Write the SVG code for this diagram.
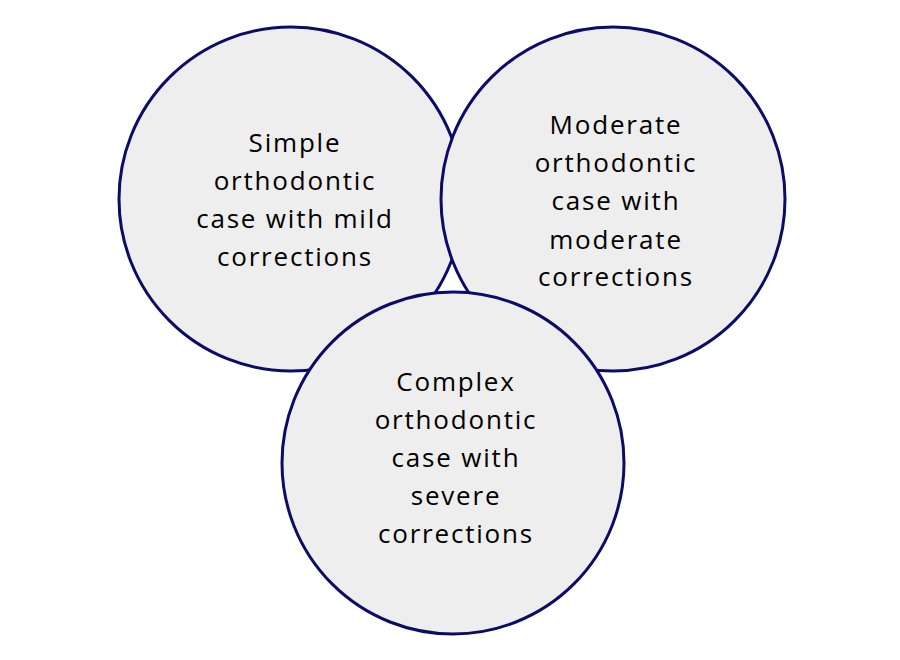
<svg xmlns="http://www.w3.org/2000/svg" width="900" height="660" viewBox="0 0 900 660">
<style>
.c{fill:#eeeeee;stroke:#0c0c66;stroke-width:3}
.t{font-family:"Open Sans","Noto Sans",sans-serif;font-size:26px;fill:#000;text-anchor:middle;letter-spacing:1.8px}
</style>
<rect width="900" height="660" fill="#fff"/>
<g id="simple">
<circle class="c" cx="291" cy="199" r="172"/>
<text class="t"><tspan x="295" y="152">Simple</tspan><tspan x="295" y="190">orthodontic</tspan><tspan x="295" y="228">case with mild</tspan><tspan x="295" y="266">corrections</tspan></text>
</g>
<g id="moderate">
<circle class="c" cx="613" cy="199" r="172"/>
<text class="t"><tspan x="616" y="134">Moderate</tspan><tspan x="616" y="172">orthodontic</tspan><tspan x="616" y="210">case with</tspan><tspan x="616" y="249">moderate</tspan><tspan x="616" y="286">corrections</tspan></text>
</g>
<g id="complex">
<circle class="c" cx="453" cy="463" r="171"/>
<text class="t"><tspan x="456" y="391">Complex</tspan><tspan x="456" y="429">orthodontic</tspan><tspan x="456" y="467">case with</tspan><tspan x="456" y="505">severe</tspan><tspan x="456" y="543">corrections</tspan></text>
</g>
<g id="connectors"></g>
</svg>
